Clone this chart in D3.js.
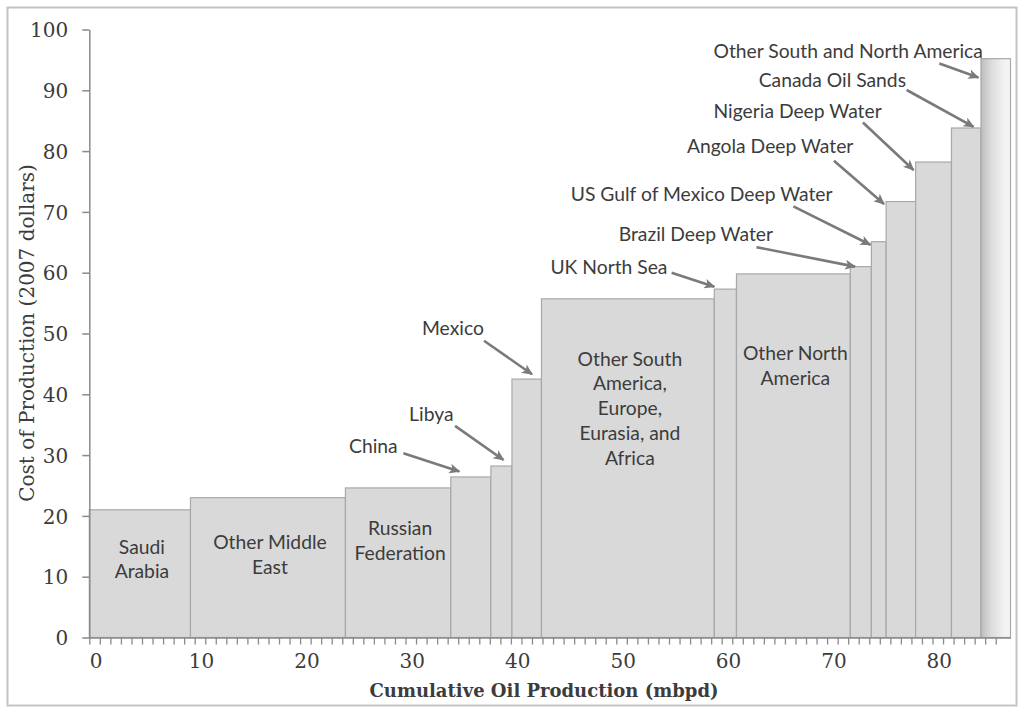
<!DOCTYPE html>
<html>
<head>
<meta charset="utf-8">
<script src="https://cdn.jsdelivr.net/npm/d3@7/dist/d3.min.js"></script>
<style>
  html, body { margin: 0; padding: 0; background: #ffffff; }
  svg { display: block; }
</style>
</head>
<body>
<svg id="chart" width="1024" height="714"></svg>
<script>
// ---------------- DATA ----------------
const regions = [
  "Saudi Arabia", "Other Middle East", "Russian Federation", "China", "Libya", "Mexico",
  "Other South America, Europe, Eurasia, and Africa", "UK North Sea", "Other North America",
  "Brazil Deep Water", "US Gulf of Mexico Deep Water", "Angola Deep Water",
  "Nigeria Deep Water", "Canada Oil Sands", "Other South and North America"
];
// production (mbpd) of each region = width of each step
const production = [9.6, 14.7, 10.0, 3.8, 2.0, 2.8, 16.4, 2.1, 10.8, 2.0, 1.4, 2.8, 3.4, 2.8, 2.8];
// cost of production (2007 dollars) = height of each step
const cost = [21.0, 23.0, 24.6, 26.4, 28.2, 42.5, 55.7, 57.3, 59.8, 61.0, 65.1, 71.7, 78.2, 83.8, 95.2];

const yTicks = [0, 10, 20, 30, 40, 50, 60, 70, 80, 90, 100];
const xTicks = [0, 10, 20, 30, 40, 50, 60, 70, 80];

// labels written inside the wide steps: [region index, lines]
const innerLabelIndex = [0, 1, 2, 6, 8];
const innerLabelLines = [
  ["Saudi", "Arabia"],
  ["Other Middle", "East"],
  ["Russian", "Federation"],
  ["Other South", "America,", "Europe,", "Eurasia, and", "Africa"],
  ["Other North", "America"]
];
// labels outside with arrows
const calloutIndex = [3, 4, 5, 7, 9, 10, 11, 12, 13, 14];

// ---------------- LAYOUT (positions in data units) ----------------
const innerLabelY = [13.0, 13.7, 16.0, 37.8, 44.8];
// [text x, text y, arrow start x, arrow start y, arrow end x, arrow end y]
const calloutPos = [
  [26.95, 31.5, 29.8, 30.3, 35.1, 27.3],
  [32.45, 36.9, 34.7, 34.8, 39.3, 29.2],
  [34.5, 51.0, 37.45, 48.8, 42.0, 43.3],
  [49.3, 61.1, 55.25, 60.0, 59.3, 57.7],
  [57.55, 66.5, 63.3, 64.2, 72.65, 61.0],
  [58.1, 73.1, 66.8, 70.9, 74.1, 64.6],
  [64.6, 81.0, 70.65, 78.4, 75.4, 71.3],
  [67.2, 86.6, 73.4, 84.7, 78.2, 76.9],
  [70.5, 91.7, 77.55, 90.05, 83.9, 84.0],
  [72.0, 96.6, 80.65, 94.4, 84.35, 92.1]
];

// ---------------- CHART ----------------
const svg = d3.select("#chart");
const total = d3.sum(production);
const ends = Array.from(d3.cumsum(production));
const starts = ends.map((e, i) => e - production[i]);

const plotLeft = 89.3, unitPx = 10.54;
const x = d3.scaleLinear().domain([0, total]).range([plotLeft, plotLeft + unitPx * total]);
const y = d3.scaleLinear().domain([0, 100]).range([637.5, 29.5]);

const serif = "'DejaVu Serif', 'Liberation Serif', serif";
const sans = "Lato, 'Open Sans', 'Noto Sans', sans-serif";
const textCol = "#3c3c3c";
const axisCol = "#8a8a8a";
const labelSize = 19.3;

// outer frame
svg.append("rect")
  .attr("x", 7.5).attr("y", 7.5).attr("width", 1009).attr("height", 698)
  .attr("fill", "#ffffff").attr("stroke", "#c4c4c4").attr("stroke-width", 2);

const defs = svg.append("defs");
const grad = defs.append("linearGradient").attr("id", "lastGrad")
  .attr("x1", "0%").attr("x2", "100%").attr("y1", "0%").attr("y2", "0%");
grad.append("stop").attr("offset", "0%").attr("stop-color", "#bdbdbd");
grad.append("stop").attr("offset", "35%").attr("stop-color", "#dcdcdc");
grad.append("stop").attr("offset", "75%").attr("stop-color", "#f1f1f1");
grad.append("stop").attr("offset", "100%").attr("stop-color", "#f6f6f6");

defs.append("marker").attr("id", "arrowHead")
  .attr("viewBox", "0 0 10 10").attr("refX", 9).attr("refY", 5)
  .attr("markerUnits", "userSpaceOnUse")
  .attr("markerWidth", 12).attr("markerHeight", 11).attr("orient", "auto")
  .append("path").attr("d", "M0,0.5 L10,5 L0,9.5 L2.5,5 Z").attr("fill", "#7a7a7a");

// steps
svg.append("g").selectAll("rect").data(cost).join("rect")
  .attr("x", (d, i) => x(starts[i]))
  .attr("width", (d, i) => x(ends[i]) - x(starts[i]))
  .attr("y", d => y(d))
  .attr("height", d => y(0) - y(d))
  .attr("fill", (d, i) => i === cost.length - 1 ? "url(#lastGrad)" : "#d9d9d9")
  .attr("stroke", "#a8a8a8").attr("stroke-width", 1.2);

// y axis
const yAxis = svg.append("g").attr("transform", `translate(${plotLeft},0)`)
  .call(d3.axisLeft(y).tickValues(yTicks).tickSize(7).tickPadding(14).tickSizeOuter(0));
yAxis.select(".domain").attr("stroke", axisCol).attr("stroke-width", 1.5);
yAxis.selectAll(".tick line").attr("stroke", axisCol).attr("stroke-width", 1.5);
yAxis.selectAll(".tick text").attr("fill", textCol).attr("font-family", serif)
  .attr("font-size", 20).attr("dy", "0.36em");

// x axis minor ticks every unit
const xMinor = svg.append("g").attr("transform", `translate(0,${y(0)})`)
  .call(d3.axisBottom(x).tickValues(d3.range(0, Math.floor(total))).tickSize(7).tickFormat("").tickSizeOuter(0));
xMinor.select(".domain").attr("stroke", axisCol).attr("stroke-width", 1.5);
xMinor.selectAll(".tick line").attr("stroke", axisCol).attr("stroke-width", 1.3);

// x axis labels (category style: centred in the unit cell)
const xLab = svg.append("g").attr("transform", `translate(${unitPx * 0.6},${y(0)})`)
  .call(d3.axisBottom(x).tickValues(xTicks).tickSize(0).tickPadding(23));
xLab.select(".domain").remove();
xLab.selectAll(".tick text").attr("fill", textCol).attr("font-family", serif)
  .attr("font-size", 20).attr("dy", "0.36em");

// axis titles
svg.append("text")
  .attr("transform", `translate(27,333) rotate(-90)`)
  .attr("text-anchor", "middle").attr("dominant-baseline", "central")
  .attr("font-family", serif).attr("font-size", 20).attr("fill", textCol)
  .text("Cost of Production (2007 dollars)");
svg.append("text")
  .attr("x", 544).attr("y", 690)
  .attr("text-anchor", "middle").attr("dominant-baseline", "central")
  .attr("font-family", serif).attr("font-weight", "bold").attr("font-size", 18).attr("fill", textCol)
  .text("Cumulative Oil Production (mbpd)");

// inner labels
const inner = svg.append("g");
innerLabelIndex.forEach((idx, k) => {
  const lines = innerLabelLines[k];
  const cx = x((starts[idx] + ends[idx]) / 2) + 2;
  const cy = y(innerLabelY[k]);
  const lh = 24.7;
  const t = inner.append("text").attr("text-anchor", "middle")
    .attr("font-family", sans).attr("font-size", labelSize).attr("fill", textCol);
  lines.forEach((ln, j) => {
    t.append("tspan").attr("x", cx)
      .attr("y", cy + (j - (lines.length - 1) / 2) * lh)
      .attr("dominant-baseline", "central").text(ln);
  });
});

// callouts
const co = svg.append("g");
calloutIndex.forEach((idx, k) => {
  const p = calloutPos[k];
  co.append("text").attr("x", x(p[0])).attr("y", y(p[1]))
    .attr("text-anchor", "middle").attr("dominant-baseline", "central")
    .attr("font-family", sans).attr("font-size", labelSize).attr("fill", textCol)
    .text(regions[idx]);
  co.append("line")
    .attr("x1", x(p[2])).attr("y1", y(p[3]))
    .attr("x2", x(p[4])).attr("y2", y(p[5]))
    .attr("stroke", "#7a7a7a").attr("stroke-width", 2.6)
    .attr("marker-end", "url(#arrowHead)");
});
</script>
</body>
</html>
